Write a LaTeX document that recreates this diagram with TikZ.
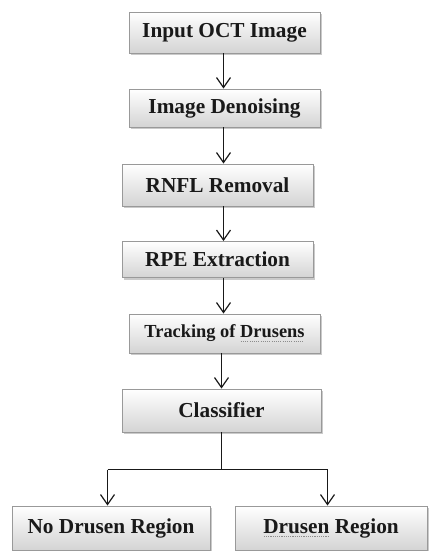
\documentclass[tikz,border=0pt]{standalone}
\usepackage{fontspec}
\setmainfont{Liberation Serif}
\usetikzlibrary{arrows.meta,shadows,shadings}
\newsavebox\sqbox
\newcommand\squig[1]{\sbox\sqbox{#1}\rlap{\hbox to\wd\sqbox{\color{black!45}\leaders\hbox to 2.2pt{\hss\vrule height -2.6pt depth 3.7pt width 1.1pt\hss}\hfill}}\usebox\sqbox}
\tikzset{
  stepbox/.style={draw=black!40, line width=0.9pt, top color=white, bottom color=black!17,
    drop shadow={shadow xshift=1.5pt, shadow yshift=-2pt, opacity=0.35, fill=black!60},
    inner sep=0pt, font=\bfseries\fontsize{21.3}{25}\selectfont, text=black!90},
  flow/.style={draw=black!90, line width=1.3pt, -{Straight Barb[length=10pt,width=14pt,line width=1.2pt]}},
  link/.style={draw=black!90, line width=1.3pt}
}
\begin{document}
\begin{tikzpicture}[x=1pt,y=-1pt]
\useasboundingbox (0,0) rectangle (428,551);
\node[stepbox, minimum width=191pt, minimum height=41pt] (b1) at (224.5,32.5) {Input OCT Image};
\node[stepbox, minimum width=191pt, minimum height=38pt] (b2) at (224.5,108) {Image Denoising};
\node[stepbox, minimum width=191pt, minimum height=42pt] (b3) at (217.5,185) {RNFL Removal};
\node[stepbox, minimum width=191pt, minimum height=36pt] (b4) at (217.5,259.5) {RPE Extraction};
\node[stepbox, minimum width=191pt, minimum height=39pt, font=\bfseries\fontsize{18.4}{22}\selectfont] (b5) at (224.5,333.5) {Tracking of \squig{Drusens}};
\node[stepbox, minimum width=199pt, minimum height=43pt] (b6) at (221.5,410.5) {Classifier};
\node[stepbox, minimum width=198pt, minimum height=44pt] (b7) at (111,528) {No Drusen Region};
\node[stepbox, minimum width=192pt, minimum height=44pt] (b8) at (331,528) {\squig{Drusen} Region};
\coordinate (sp) at (223.5,0);
\coordinate (sp6) at (221.5,0);
\coordinate (jn) at (221.5,469.5);
\coordinate (jl) at (107.5,469.5);
\coordinate (jr) at (327.5,469.5);
\draw[flow] (b1.south -| sp) -- (b2.north -| sp);
\draw[flow] (b2.south -| sp) -- (b3.north -| sp);
\draw[flow] (b3.south -| sp) -- (b4.north -| sp);
\draw[flow] (b4.south -| sp) -- (b5.north -| sp);
\draw[flow] (b5.south -| sp6) -- (b6.north -| sp6);
\draw[link] (b6.south -| jn) -- (jn);
\draw[link] (jl) -- (jr);
\draw[flow] (jl) -- (b7.north -| jl);
\draw[flow] (jr) -- (b8.north -| jr);
\end{tikzpicture}
\end{document}
